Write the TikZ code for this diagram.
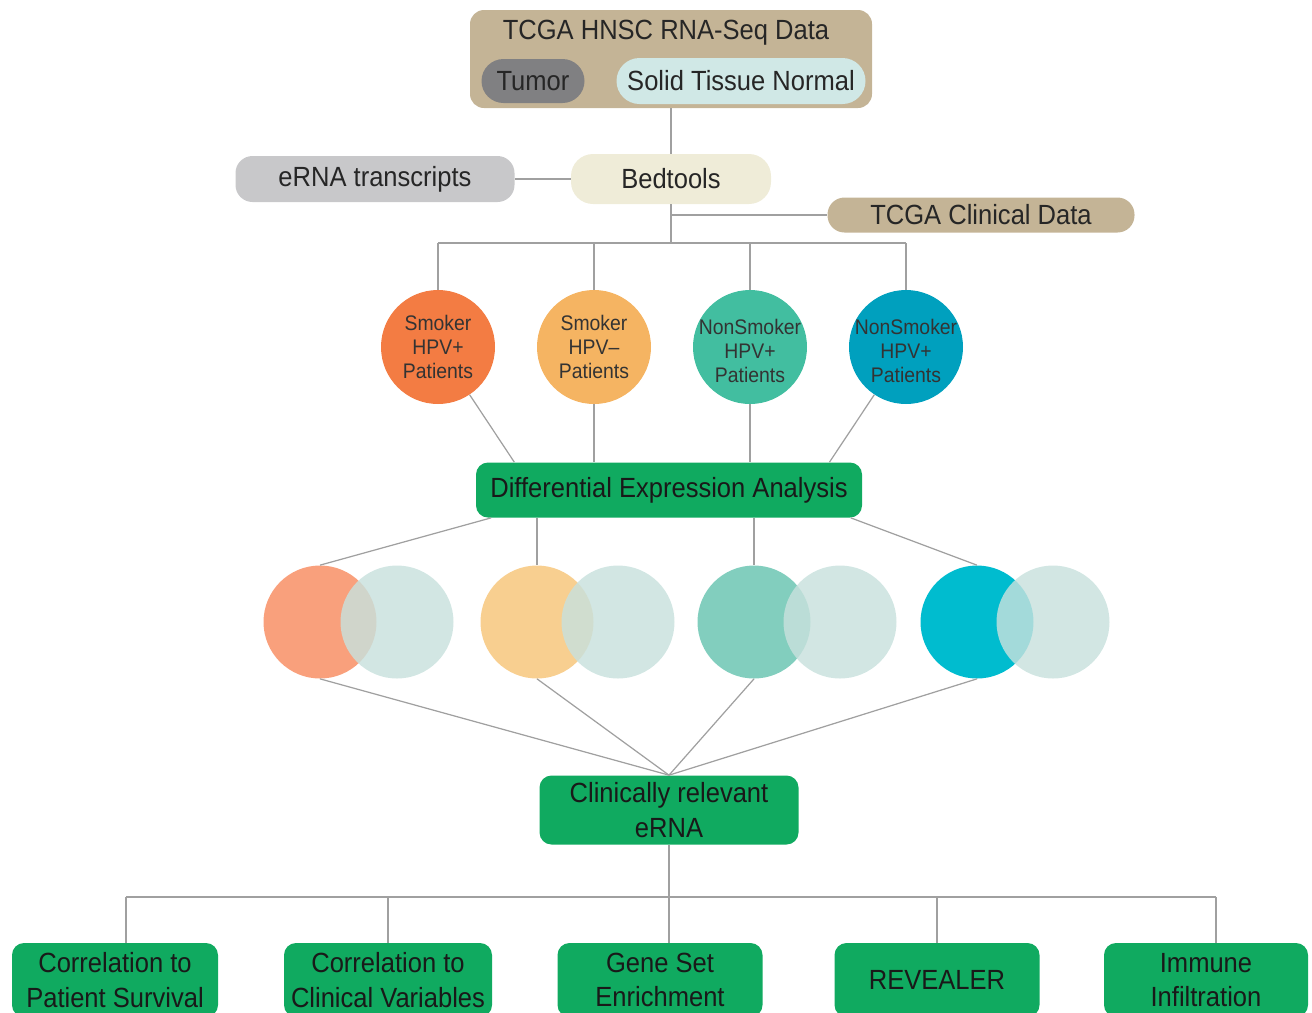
\documentclass[tikz,border=0pt]{standalone}
\usepackage{fontspec}
\setmainfont[FakeStretch=0.92]{Liberation Sans}
\usetikzlibrary{calc}
\newcommand{\pxu}{0.02cm}

\definecolor{tanbox}{RGB}{196,180,150}
\definecolor{tumorgray}{RGB}{128,128,130}
\definecolor{normalcyan}{RGB}{208,232,230}
\definecolor{ernagray}{RGB}{200,200,202}
\definecolor{bedcream}{RGB}{239,236,216}
\definecolor{boxgreen}{RGB}{16,170,96}
\definecolor{linegray}{RGB}{160,160,160}
\definecolor{pA}{RGB}{243,124,67}
\definecolor{pB}{RGB}{245,180,98}
\definecolor{pC}{RGB}{66,190,160}
\definecolor{pD}{RGB}{0,160,190}
\definecolor{vA}{RGB}{249,160,124}
\definecolor{vB}{RGB}{248,207,144}
\definecolor{vC}{RGB}{130,206,190}
\definecolor{vD}{RGB}{0,188,207}
\definecolor{vgray}{RGB}{200,225,221}

\tikzset{
  txt/.style={font=\fontsize{15.8}{19.8}\selectfont, text=black!85, align=center, inner sep=0pt},
  pill/.style={txt, draw=none, rectangle},
  greenbox/.style={txt, fill=boxgreen, rounded corners=0.24cm, text=black!90},
  patient/.style={circle, inner sep=0pt, minimum size=114*\pxu},
  ptext/.style={align=center, inner sep=0pt, font=\fontsize{12}{13.6}\selectfont, text=black!80},
  venn/.style={circle, inner sep=0pt, minimum size=113*\pxu},
  link/.style={draw=linegray, line width=0.7pt},
}

\begin{document}
\begin{tikzpicture}[x=\pxu, y=-\pxu]
\useasboundingbox (0,0) rectangle (1312,1012);

% Donnees
\node[pill, fill=tanbox, rounded corners=0.28cm, minimum width=402*\pxu, minimum height=98*\pxu] (data) at (671,59) {};
\node[txt] (title) at (666,33) {TCGA HNSC RNA-Seq Data};
\node[pill, fill=tumorgray, rounded corners=0.44cm, minimum width=103*\pxu, minimum height=44*\pxu] (tumor) at (533,81) {Tumor};
\node[pill, fill=normalcyan, rounded corners=0.46cm, minimum width=249*\pxu, minimum height=46*\pxu] (normal) at (741,81) {Solid Tissue Normal};

\node[pill, fill=bedcream, rounded corners=0.44cm, minimum width=200*\pxu, minimum height=50*\pxu] (bed) at (671,179) {Bedtools};
\node[pill, fill=ernagray, rounded corners=0.34cm, minimum width=279*\pxu, minimum height=46*\pxu] (erna) at (375,179) {eRNA transcripts};
\node[pill, fill=tanbox, rounded corners=0.34cm, minimum width=307*\pxu, minimum height=35*\pxu] (clin) at (981,215) {TCGA Clinical Data};
\coordinate (bus) at (671,243);

% Patients
\node[patient, fill=pA] (p1) at (438,347) {};
\node[patient, fill=pB] (p2) at (594,347) {};
\node[patient, fill=pC] (p3) at (750,347) {};
\node[patient, fill=pD] (p4) at (906,347) {};
\node[ptext] at (p1) {Smoker\\HPV+\\Patients};
\node[ptext] at (p2) {Smoker\\HPV--\\Patients};
\node[ptext] at ([yshift=-4*\pxu]p3) {NonSmoker\\HPV+\\Patients};
\node[ptext] at ([yshift=-4*\pxu]p4) {NonSmoker\\HPV+\\Patients};

\node[greenbox, minimum width=386*\pxu, minimum height=55*\pxu] (dea) at (669,490) {Differential Expression Analysis};

% Venn
\node[venn, fill=vA] (v1) at (320,622) {};
\node[venn, fill=vB] (v2) at (537,622) {};
\node[venn, fill=vC] (v3) at (754,622) {};
\node[venn, fill=vD] (v4) at (977,622) {};
\node[venn, fill=vgray, fill opacity=0.82] (g1) at (397,622) {};
\node[venn, fill=vgray, fill opacity=0.82] (g2) at (618,622) {};
\node[venn, fill=vgray, fill opacity=0.82] (g3) at (840,622) {};
\node[venn, fill=vgray, fill opacity=0.82] (g4) at (1053,622) {};

\node[greenbox, minimum width=259*\pxu, minimum height=69*\pxu] (cre) at (669,810) {Clinically relevant\\eRNA};
\coordinate (bus2) at (669,897);

% Analyses
\node[greenbox, minimum width=206*\pxu, minimum height=74*\pxu] (b1) at (115,980) {Correlation to\\Patient Survival};
\node[greenbox, minimum width=208*\pxu, minimum height=74*\pxu] (b2) at (388,980) {Correlation to\\Clinical Variables};
\node[greenbox, minimum width=205*\pxu, minimum height=74*\pxu] (b3) at (660,980) {Gene Set\\Enrichment};
\node[greenbox, minimum width=205*\pxu, minimum height=74*\pxu] (b4) at (937,980) {REVEALER};
\node[greenbox, minimum width=204*\pxu, minimum height=74*\pxu] (b5) at (1206,980) {Immune\\Infiltration};

% Liaisons
\draw[link] (data) -- (bed);
\draw[link] (erna) -- (bed);
\draw[link] (bed) -- (bus);
\draw[link] (clin.west) -- (clin.west -| bed.south);
\draw[link] (p1 |- bus) -- (p4 |- bus);
\foreach \i in {1,...,4}
  \draw[link] (p\i |- bus) -- (p\i);

\draw[link] (p1) -- ($(dea.north west)!0.1!(dea.north east)$);
\draw[link] (p2) -- (p2 |- dea.north);
\draw[link] (p3) -- (p3 |- dea.north);
\draw[link] (p4) -- ($(dea.north west)!0.915!(dea.north east)$);

\draw[link] ($(dea.south west)!0.04!(dea.south east)$) -- (v1.north);
\draw[link] (v2.north |- dea.south) -- (v2.north);
\draw[link] (v3.north |- dea.south) -- (v3.north);
\draw[link] ($(dea.south west)!0.97!(dea.south east)$) -- (v4.north);
\foreach \i in {1,...,4}
  \draw[link] (v\i.south) -- (cre.north);

\draw[link] (cre) -- (bus2);
\foreach \i/\dx in {1/11,2/0,3/9,4/0,5/10}
  \draw[link] ([xshift=\dx*\pxu]b\i.north) -- ([xshift=\dx*\pxu]b\i.north |- bus2);
\draw[link] ([xshift=11*\pxu]b1.north |- bus2) -- ([xshift=10*\pxu]b5.north |- bus2);

\end{tikzpicture}
\end{document}
